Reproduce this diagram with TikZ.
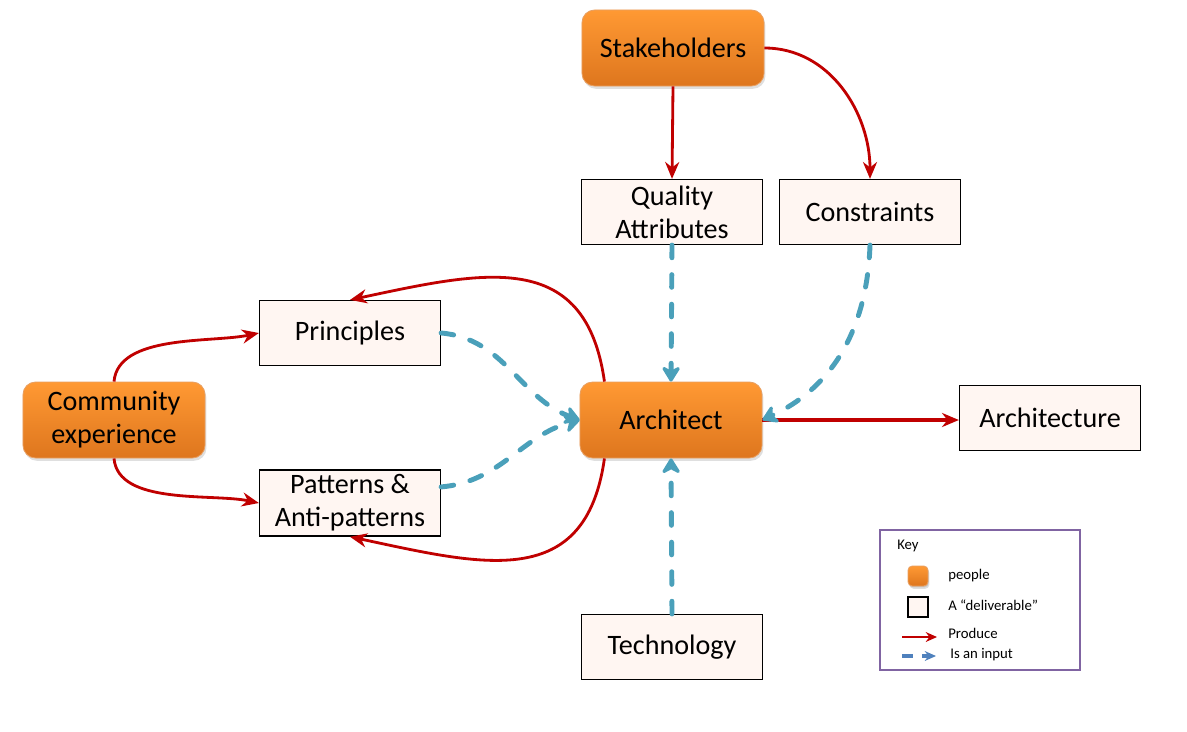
\documentclass[tikz,border=0pt]{standalone}
\usepackage{fontspec}
\setmainfont{Carlito}
\usetikzlibrary{arrows.meta,shadows}
\definecolor{produce}{HTML}{C00000}
\definecolor{input}{HTML}{4AA0BA}
\definecolor{inputkey}{HTML}{4F81BD}
\definecolor{keyframe}{HTML}{8064A2}
\definecolor{peopletop}{HTML}{FF9933}
\definecolor{peoplebot}{HTML}{DE761E}
\definecolor{paper}{HTML}{FFF6F2}
\tikzset{
  people/.style={draw=peoplebot!70!white, line width=0.6pt, rounded corners=9pt,
    top color=peopletop, bottom color=peoplebot, align=center,
    minimum width=4.55cm, minimum height=1.9cm, font=\fontsize{20}{23.5}\selectfont,
    drop shadow={opacity=0.25, shadow xshift=1pt, shadow yshift=-2pt}},
  deliverable/.style={draw, line width=1pt, fill=paper, align=center,
    minimum width=4.52cm, minimum height=1.62cm, font=\fontsize{20}{23.5}\selectfont},
  produce/.style={draw=produce, line width=2pt, -{Stealth[length=12pt,width=10pt]}},
  input/.style={draw=input, line width=3.5pt, line cap=round, dash pattern=on 9pt off 12pt,
    -{Stealth[length=13pt,width=16pt,round]}},
  keytext/.style={anchor=west, font=\fontsize{10.5}{12}\selectfont, inner sep=0pt},
}
\begin{document}
\begin{tikzpicture}[x=0.025cm, y=-0.025cm]
    \useasboundingbox (0,0) rectangle (1187,731);

    % people
    \node[people] (stk) at (673,48) {Stakeholders};
    \node[people] (com) at (114,420) {Community\\experience};
    \node[people] (arch) at (671,420) {Architect};

    % deliverables
    \node[deliverable] (qa) at (672,212) {Quality\\Attributes};
    \node[deliverable] (con) at (870,212) {Constraints};
    \node[deliverable] (pri) at (350,333) {Principles};
    \node[deliverable] (pat) at (350,503) {Patterns \&\\Anti-patterns};
    \node[deliverable] (tech) at (672,647) {Technology};
    \node[deliverable] (arc) at (1050,418) {Architecture};

    % produce
    \draw[produce] (stk.south) -- (qa.north);
    \draw[produce] (stk.east) to[out=0, in=90] (con.north);
    \draw[produce] (com.north) to[out=85, in=192, looseness=0.8] (pri.west);
    \draw[produce] (com.south) to[out=-85, in=168, looseness=0.8] (pat.west);
    \draw[produce] (arch.150) to[out=98, in=12, looseness=1.3] (pri.north);
    \draw[produce] (arch.210) to[out=-98, in=-12, looseness=1.3] (pat.south);
    \draw[produce, line width=2.3pt] (arch.east) -- (arch.east -| arc.west);

    % inputs
    \draw[input] (qa.south) -- (arch.north);
    \draw[input] (tech.north) -- (arch.south);
    \draw[input] (con.south) to[out=-92, in=25] (arch.east);
    \draw[input] (pri.east) to[out=-5, in=160] (arch.west);
    \draw[input] (pat.10) to[out=5, in=195] (arch.west);

    % key
    \node[draw=keyframe, line width=2pt, minimum width=5cm, minimum height=3.5cm] (key) at (980,600) {};
    \node[keytext] (keylbl) at (897,546) {Key};
    \node[people, minimum width=0.5cm, minimum height=0.5cm, rounded corners=3pt,
      drop shadow={opacity=0.25, shadow xshift=0.5pt, shadow yshift=-1pt}] (keypeople) at (918,576) {};
    \node[keytext] (keypeoplelbl) at (948,576) {people};
    \node[deliverable, line width=1.4pt, minimum width=0.5cm, minimum height=0.5cm] (keydeliv) at (918,607) {};
    \node[keytext] (keydelivlbl) at (948,605) {A “deliverable”};
    \node[keytext] (keyproducelbl) at (948,633) {Produce};
    \node[keytext] (keyinputlbl) at (950,655) {Is an input};
    \draw[produce, line width=1.8pt, -{Stealth[length=8pt,width=7pt]}] (902,637) -- (937,637);
    \draw[inputkey, line width=2.2pt] (902,656) -- (913,656);
    \draw[inputkey, line width=2.2pt, -{Stealth[length=8pt,width=7pt]}] (922,656) -- (936,656);
\end{tikzpicture}
\end{document}
